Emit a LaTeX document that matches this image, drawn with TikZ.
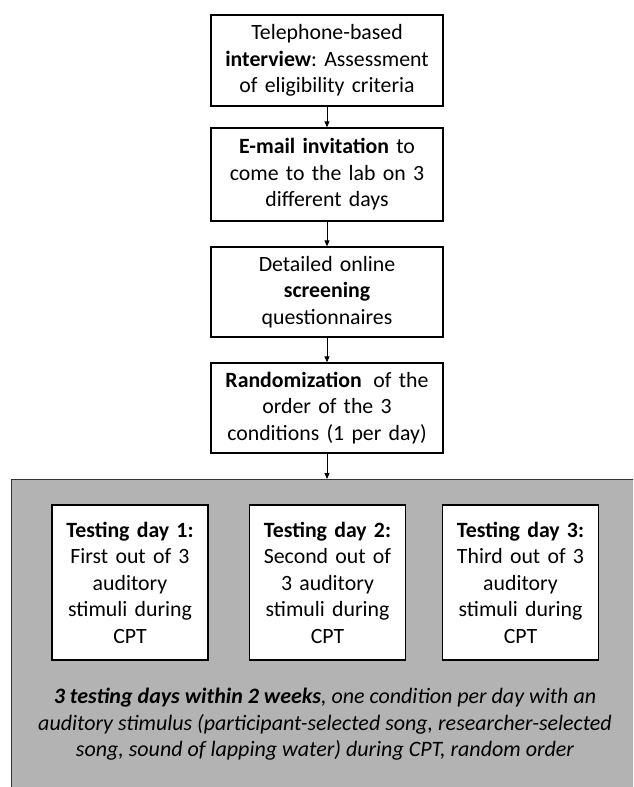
\documentclass[tikz,border=0pt]{standalone}
\usepackage{fontspec}
\setmainfont{Carlito}
\usetikzlibrary{arrows.meta}
\definecolor{panelgray}{RGB}{179,179,179}
\frenchspacing
\tikzset{
  flowbox/.style={draw=black, line width=1.3pt, fill=white, align=center, inner sep=0pt,
    font=\fontsize{21.8}{26.5}\selectfont},
  topbox/.style={flowbox, minimum width=232pt, minimum height=91pt, text width=228pt},
  daybox/.style={flowbox, minimum width=156pt, minimum height=155pt, text width=152pt},
  flowarrow/.style={line width=0.9pt, -{Triangle[length=6pt,width=5pt]}},
}
\begin{document}
\begin{tikzpicture}[x=1pt,y=-1pt]
\useasboundingbox (0,0) rectangle (633,787);
\clip (0,0) rectangle (633,787);
\fill[white] (0,0) rectangle (633,787);
\draw[fill=panelgray, draw=black!80, line width=1pt] (11,479) rectangle (650,800);
\coordinate (gtop) at (327,479);
\node[topbox] (b1) at (327,60.5) {Telephone-based\\\textbf{interview}: Assessment\\of eligibility criteria};
\node[topbox, minimum height=93pt] (b2) at (327,174.5) {\textbf{E-mail invitation} to\\come to the lab on 3\\different days};
\node[topbox, minimum height=90pt] (b3) at (327,292) {Detailed online\\\textbf{screening}\\questionnaires};
\node[topbox, minimum height=90pt] (b4) at (327,408) {\textbf{Randomization}\hspace{0.2em} of the\\order of the 3\\conditions (1 per day)};
\node[daybox] (d1) at (130,582.5) {\textbf{Testing day 1:}\\First out of 3\\auditory\\stimuli during\\CPT};
\node[daybox] (d2) at (327.5,582.5) {\textbf{Testing day 2:}\\Second out of\\3 auditory\\stimuli during\\CPT};
\node[daybox] (d3) at (520.5,582.5) {\textbf{Testing day 3:}\\Third out of 3\\auditory\\stimuli during\\CPT};
\node[align=center, inner sep=0pt, font=\fontsize{22}{26.5}\selectfont\itshape] (summary) at (325,724.5)
  {\textbf{3 testing days within 2 weeks}, one condition per day with an\\auditory stimulus (participant-selected song, researcher-selected\\song, sound of lapping water) during CPT, random order};
\draw[flowarrow] (b1) -- (b2);
\draw[flowarrow] (b2) -- (b3);
\draw[flowarrow] (b3) -- (b4);
\draw[flowarrow] (b4) -- (gtop);
\end{tikzpicture}
\end{document}
